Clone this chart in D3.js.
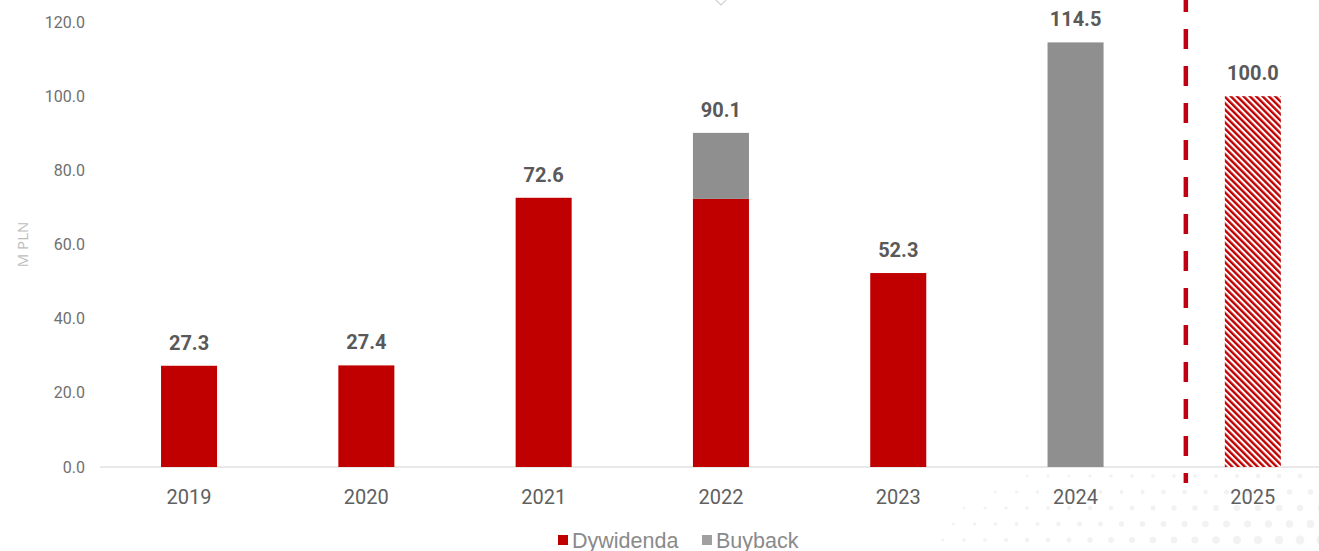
<!DOCTYPE html>
<html>
<head>
<meta charset="utf-8">
<script src="https://cdn.jsdelivr.net/npm/d3@7"></script>
<style>
  body { margin: 0; background: #fff; }
  svg { display: block; }
</style>
</head>
<body>
<script>
// dane
const years = ["2019", "2020", "2021", "2022", "2023", "2024", "2025"];
const dywidenda = [27.3, 27.4, 72.6, 72.3, 52.3, 0, 0];
const buyback = [0, 0, 0, 17.8, 0, 114.5, 0];
const prognoza = [0, 0, 0, 0, 0, 0, 100.0];
const sumy = ["27.3", "27.4", "72.6", "90.1", "52.3", "114.5", "100.0"];
const yTicks = [0, 20, 40, 60, 80, 100, 120];

const W = 1319, H = 551;
const red = "#c00000", grey = "#8f8f8f";

const svg = d3.select("body").append("svg")
  .attr("width", W)
  .attr("height", H);

// tło - delikatne kropki w prawym dolnym rogu (dekoracja)
const dots = [];
for (let row = 0; row < 6; row++) {
  for (let col = 0; col < 22; col++) {
    const cx = 880 + col * 21 + (row % 2) * 10.5;
    const cy = 476 + row * 16;
    const t = Math.max(0, (cx - 880) / 440) * (0.3 + row / 8);
    if (t > 0.1) dots.push({ cx, cy, r: 1 + t * 4.5 });
  }
}
svg.selectAll(".dot")
  .data(dots)
  .join("circle")
  .attr("class", "dot")
  .attr("cx", d => d.cx)
  .attr("cy", d => d.cy)
  .attr("r", d => d.r)
  .attr("fill", "#f2f2f2");

// wzór kreskowania dla prognozy
svg.append("defs").append("pattern")
  .attr("id", "hatch")
  .attr("width", 4.5)
  .attr("height", 4.5)
  .attr("patternUnits", "userSpaceOnUse")
  .attr("patternTransform", "rotate(-45)")
  .call(p => {
    p.append("rect").attr("width", 4.5).attr("height", 4.5).attr("fill", "#fff");
    p.append("rect").attr("width", 2.4).attr("height", 4.5).attr("fill", red);
  });

const x = d3.scaleBand()
  .domain(years)
  .range([100.4, 1341.5])
  .paddingInner(0.684)
  .paddingOuter(0.342);

const y = d3.scaleLinear()
  .domain([0, 120])
  .range([467, 22]);

// oś Y - same etykiety
const yAxis = svg.append("g")
  .attr("transform", "translate(85,0)")
  .call(d3.axisLeft(y).tickValues(yTicks).tickFormat(d3.format(".1f")).tickSize(0).tickPadding(0));
yAxis.select(".domain").remove();
yAxis.selectAll("text")
  .attr("font-family", "Roboto, sans-serif")
  .attr("font-size", 16)
  .attr("fill", "#707070");

svg.append("text")
  .attr("transform", "translate(28," + y(60) + ") rotate(-90)")
  .attr("text-anchor", "middle")
  .attr("font-family", "'Open Sans', sans-serif")
  .attr("font-size", 15)
  .attr("fill", "#bdbdbd")
  .text("M PLN");

// linia bazowa
svg.append("line")
  .attr("x1", 100).attr("x2", W)
  .attr("y1", y(0)).attr("y2", y(0))
  .attr("stroke", "#e0e0e0")
  .attr("stroke-width", 1.5);

// słupki - dywidenda
svg.selectAll(".dyw")
  .data(years)
  .join("rect")
  .attr("class", "dyw")
  .attr("x", d => x(d))
  .attr("width", x.bandwidth())
  .attr("y", (d, i) => y(dywidenda[i]))
  .attr("height", (d, i) => y(0) - y(dywidenda[i]))
  .attr("fill", red);

// słupki - buyback (na dywidendzie)
svg.selectAll(".buy")
  .data(years)
  .join("rect")
  .attr("class", "buy")
  .attr("x", d => x(d))
  .attr("width", x.bandwidth())
  .attr("y", (d, i) => y(dywidenda[i] + buyback[i]))
  .attr("height", (d, i) => y(dywidenda[i]) - y(dywidenda[i] + buyback[i]))
  .attr("fill", grey);

// prognoza 2025
svg.selectAll(".prog")
  .data(years)
  .join("rect")
  .attr("class", "prog")
  .attr("x", d => x(d))
  .attr("width", x.bandwidth())
  .attr("y", (d, i) => y(prognoza[i]))
  .attr("height", (d, i) => y(0) - y(prognoza[i]))
  .attr("fill", "url(#hatch)");

// etykiety wartości
svg.selectAll(".val")
  .data(years)
  .join("text")
  .attr("class", "val")
  .attr("x", d => x(d) + x.bandwidth() / 2)
  .attr("y", (d, i) => y(dywidenda[i] + buyback[i] + prognoza[i]) - 16)
  .attr("text-anchor", "middle")
  .attr("font-family", "Roboto, sans-serif")
  .attr("font-weight", "bold")
  .attr("font-size", 20)
  .attr("fill", "#595959")
  .text((d, i) => sumy[i]);

// etykiety lat
svg.selectAll(".rok")
  .data(years)
  .join("text")
  .attr("class", "rok")
  .attr("x", d => x(d) + x.bandwidth() / 2)
  .attr("y", 504)
  .attr("text-anchor", "middle")
  .attr("font-family", "Roboto, sans-serif")
  .attr("font-size", 20)
  .attr("fill", "#606060")
  .text(d => d);

// przerywana linia oddzielająca prognozę
const xSep = x("2025") - 39;
svg.append("line")
  .attr("x1", xSep).attr("x2", xSep)
  .attr("y1", -8).attr("y2", 483)
  .attr("stroke", "#c00010")
  .attr("stroke-width", 4.5)
  .attr("stroke-dasharray", "20,17");

// mały romb u góry
svg.append("path")
  .attr("d", "M714,-2 L721,5 L728,-2")
  .attr("fill", "none")
  .attr("stroke", "#d0d0d0")
  .attr("stroke-width", 1.2);

// legenda
const legend = [{ name: "Dywidenda", color: red, x: 558 }, { name: "Buyback", color: "#a0a0a0", x: 702 }];
const lg = svg.selectAll(".leg")
  .data(legend)
  .join("g")
  .attr("class", "leg")
  .attr("transform", d => "translate(" + d.x + ",540)");
lg.append("rect")
  .attr("x", 0).attr("y", -5)
  .attr("width", 10).attr("height", 10)
  .attr("fill", d => d.color);
lg.append("text")
  .attr("x", 14).attr("y", 7.5)
  .attr("font-family", "'Liberation Sans', Arial, sans-serif")
  .attr("font-size", 21.5)
  .attr("fill", "#8a8a8a")
  .text(d => d.name);
</script>
</body>
</html>
